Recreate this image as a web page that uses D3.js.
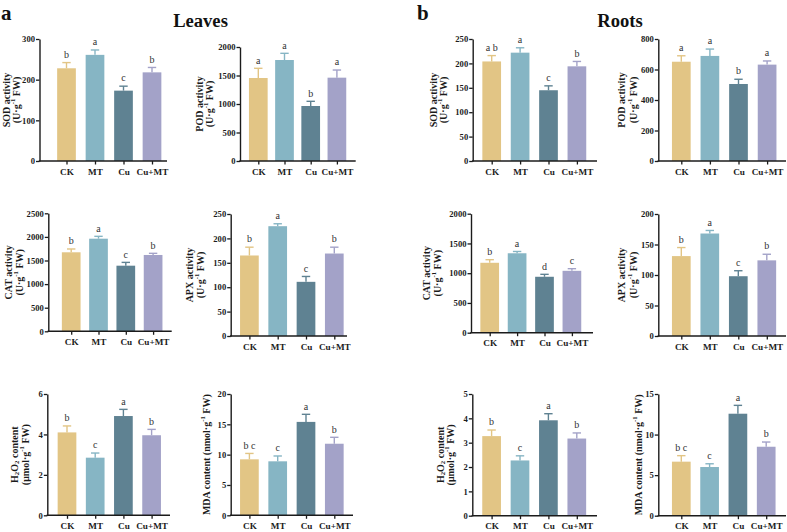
<!DOCTYPE html>
<html><head><meta charset="utf-8">
<script src="https://cdn.jsdelivr.net/npm/d3@7"></script>
<style>body{margin:0;background:#fff} svg{display:block} text{font-family:"Liberation Serif","Times New Roman",serif}</style>
</head><body><svg id="c" width="787" height="532"></svg>
<script>
const categories = ["CK", "MT", "Cu", "Cu+MT"];
const barColors = ["#E2C585", "#86B5C4", "#5F8292", "#A3A2C8"];

// Leaves
const leavesSOD = [228, 261, 173, 218];
const leavesSODErr = [14, 12, 11, 12];
const leavesSODLetters = ["b", "a", "c", "b"];
const leavesSODTicks = [0, 100, 200, 300];

const leavesPOD = [1456, 1772, 965, 1462];
const leavesPODErr = [170, 117, 82, 134];
const leavesPODLetters = ["a", "a", "b", "a"];
const leavesPODTicks = [0, 500, 1000, 1500, 2000];

const leavesCAT = [1674, 1962, 1390, 1617];
const leavesCATErr = [70, 50, 70, 35];
const leavesCATLetters = ["b", "a", "c", "b"];
const leavesCATTicks = [0, 500, 1000, 1500, 2000, 2500];

const leavesAPX = [165, 225, 111, 169];
const leavesAPXErr = [17, 5, 11, 13];
const leavesAPXLetters = ["b", "a", "c", "b"];
const leavesAPXTicks = [0, 50, 100, 150, 200, 250];

const leavesH2O2 = [4.10, 2.85, 4.91, 3.96];
const leavesH2O2Err = [0.32, 0.23, 0.33, 0.29];
const leavesH2O2Letters = ["b", "c", "a", "b"];
const leavesH2O2Ticks = [0, 2, 4, 6];

const leavesMDA = [9.23, 8.9, 15.4, 11.8];
const leavesMDAErr = [0.97, 0.88, 1.25, 1.06];
const leavesMDALetters = ["b c", "c", "a", "b"];
const leavesMDATicks = [0, 5, 10, 15, 20];

// Roots
const rootsSOD = [204, 222, 145, 194];
const rootsSODErr = [12, 10, 9, 10];
const rootsSODLetters = ["a b", "a", "c", "b"];
const rootsSODTicks = [0, 50, 100, 150, 200, 250];

const rootsPOD = [651, 689, 505, 632];
const rootsPODErr = [39, 45, 31, 24];
const rootsPODLetters = ["a", "a", "b", "a"];
const rootsPODTicks = [0, 200, 400, 600, 800];

const rootsCAT = [1175, 1335, 940, 1040];
const rootsCATErr = [52, 30, 41, 36];
const rootsCATLetters = ["b", "a", "d", "c"];
const rootsCATTicks = [0, 500, 1000, 1500, 2000];

const rootsAPX = [131, 168, 98, 124];
const rootsAPXErr = [14, 5, 9, 10];
const rootsAPXLetters = ["b", "a", "c", "b"];
const rootsAPXTicks = [0, 50, 100, 150, 200];

const rootsH2O2 = [3.27, 2.27, 3.92, 3.17];
const rootsH2O2Err = [0.25, 0.19, 0.27, 0.23];
const rootsH2O2Letters = ["b", "c", "a", "b"];
const rootsH2O2Ticks = [0, 1, 2, 3, 4, 5];

const rootsMDA = [6.66, 6.0, 12.57, 8.5];
const rootsMDAErr = [0.74, 0.4, 1.03, 0.58];
const rootsMDALetters = ["b c", "c", "a", "b"];
const rootsMDATicks = [0, 5, 10, 15];

const unitU = [{t: "(U·g"}, {t: "-1", s: "sup"}, {t: " FW)"}];
const unitH = [{t: "(μmol·g"}, {t: "-1", s: "sup"}, {t: " FW)"}];
const h2o2Label = [{t: "H"}, {t: "2", s: "sub"}, {t: "O"}, {t: "2", s: "sub"}, {t: " content"}];
const mdaLabel = [{t: "MDA content (nmol·g"}, {t: "-1", s: "sup"}, {t: " FW)"}];

const panels = [
  {v: leavesSOD, e: leavesSODErr, l: leavesSODLetters, ticks: leavesSODTicks, lab: [[{t:"SOD activity"}], unitU], lx: [5.5, 16], ax: 39.5, top: 39, bot: 161, off: 27, step: 28.5, end: 167},
  {v: leavesPOD, e: leavesPODErr, l: leavesPODLetters, ticks: leavesPODTicks, lab: [[{t:"POD activity"}], unitU], lx: [198.5, 209], ax: 240, top: 47, bot: 161, off: 18.3, step: 26.2, end: 355.7},
  {v: rootsSOD, e: rootsSODErr, l: rootsSODLetters, ticks: rootsSODTicks, lab: [[{t:"SOD activity"}], unitU], lx: [432.5, 442.5], ax: 472.7, top: 39, bot: 161, off: 19, step: 28.4, end: 597},
  {v: rootsPOD, e: rootsPODErr, l: rootsPODLetters, ticks: rootsPODTicks, lab: [[{t:"POD activity"}], unitU], lx: [621, 632.5], ax: 658.3, top: 39, bot: 161, off: 23, step: 28.6, end: 786},
  {v: leavesCAT, e: leavesCATErr, l: leavesCATLetters, ticks: leavesCATTicks, lab: [[{t:"CAT activity"}], unitU], lx: [8, 19], ax: 48.3, top: 213.3, bot: 331.3, off: 22.9, step: 27.3, end: 171.7},
  {v: leavesAPX, e: leavesAPXErr, l: leavesAPXLetters, ticks: leavesAPXTicks, lab: [[{t:"APX activity"}], unitU], lx: [188.5, 200], ax: 230.7, top: 214, bot: 336, off: 18.7, step: 28.3, end: 347},
  {v: rootsCAT, e: rootsCATErr, l: rootsCATLetters, ticks: rootsCATTicks, lab: [[{t:"CAT activity"}], unitU], lx: [426, 437], ax: 471, top: 213.7, bot: 332.7, off: 18.7, step: 27.4, end: 593},
  {v: rootsAPX, e: rootsAPXErr, l: rootsAPXLetters, ticks: rootsAPXTicks, lab: [[{t:"APX activity"}], unitU], lx: [621, 632.5], ax: 658.3, top: 214, bot: 336, off: 23, step: 28.5, end: 786},
  {v: leavesH2O2, e: leavesH2O2Err, l: leavesH2O2Letters, ticks: leavesH2O2Ticks, lab: [h2o2Label, unitH], lx: [13.5, 25], ax: 47.3, top: 394, bot: 515.3, off: 19.7, step: 28.2, end: 170},
  {v: leavesMDA, e: leavesMDAErr, l: leavesMDALetters, ticks: leavesMDATicks, lab: [mdaLabel], lx: [206], ax: 230.7, top: 394, bot: 515.3, off: 18.7, step: 28.3, end: 353},
  {v: rootsH2O2, e: rootsH2O2Err, l: rootsH2O2Letters, ticks: rootsH2O2Ticks, lab: [h2o2Label, unitH], lx: [439.5, 450], ax: 472.3, top: 394, bot: 515.7, off: 19.3, step: 28.4, end: 597},
  {v: rootsMDA, e: rootsMDAErr, l: rootsMDALetters, ticks: rootsMDATicks, lab: [mdaLabel], lx: [638], ax: 658.3, top: 394, bot: 515.7, off: 23, step: 28.3, end: 786}
];

const svg = d3.select("#c");
const INK = "#1b1b1b";
const BW = 18.7;
const SERIF = '"Liberation Serif","Times New Roman",serif';

function rich(text, parts, fs) {
  let cur = 0;
  parts.forEach(p => {
    const target = p.s === "sup" ? -0.38 * fs : p.s === "sub" ? 0.28 * fs : 0;
    const ts = text.append("tspan").text(p.t).attr("dy", target - cur);
    if (p.s) ts.attr("font-size", fs * 0.68);
    cur = target;
  });
}

panels.forEach(p => {
  const g = svg.append("g");
  const yMax = p.ticks[p.ticks.length - 1];
  const y = d3.scaleLinear().domain([0, yMax]).range([p.bot, p.top]);
  const x = d3.scalePoint().domain(categories).range([p.ax + p.off, p.ax + p.off + 3 * p.step]);

  // bars
  g.selectAll("rect.bar").data(p.v).join("rect").attr("class", "bar")
    .attr("x", (d, i) => x(categories[i]) - BW / 2)
    .attr("width", BW)
    .attr("y", d => y(d))
    .attr("height", d => p.bot - y(d))
    .attr("fill", (d, i) => barColors[i]);

  // error bars (upper) and significance letters
  p.v.forEach((d, i) => {
    const cx = x(categories[i]);
    const yt = y(d + p.e[i]);
    g.append("line").attr("x1", cx).attr("x2", cx).attr("y1", y(d)).attr("y2", yt)
      .attr("stroke", barColors[i]).attr("stroke-width", 1.4);
    g.append("line").attr("x1", cx - 4.2).attr("x2", cx + 4.2).attr("y1", yt).attr("y2", yt)
      .attr("stroke", barColors[i]).attr("stroke-width", 1.4);
    g.append("text").attr("x", cx).attr("y", yt - 4.8).attr("text-anchor", "middle")
      .attr("font-size", 10).attr("fill", "#333").text(p.l[i]);
  });

  // y axis
  const ya = g.append("g").attr("transform", `translate(${p.ax},0)`)
    .call(d3.axisLeft(y).tickValues(p.ticks).tickFormat(d => String(d)).tickSize(3.5).tickSizeOuter(0).tickPadding(1));
  ya.select(".domain").attr("stroke", INK).attr("stroke-width", 1.4);
  ya.selectAll(".tick line").attr("stroke", INK).attr("stroke-width", 1.3);
  ya.selectAll(".tick text").attr("font-size", 8.6).attr("font-weight", "bold").attr("fill", INK)
    .style("font-family", SERIF);

  // x axis
  const xa = g.append("g").attr("transform", `translate(0,${p.bot})`)
    .call(d3.axisBottom(x).tickSize(3.5).tickSizeOuter(0).tickPadding(3.5));
  xa.select(".domain").remove();
  xa.selectAll(".tick line").attr("stroke", INK).attr("stroke-width", 1.3);
  xa.selectAll(".tick text").attr("font-size", 9.2).attr("font-weight", "bold").attr("fill", INK)
    .style("font-family", SERIF);
  g.append("line").attr("x1", p.ax - 0.7).attr("x2", p.end).attr("y1", p.bot).attr("y2", p.bot)
    .attr("stroke", INK).attr("stroke-width", 1.4);

  // y label
  const cy = (p.top + p.bot) / 2;
  p.lab.forEach((parts, k) => {
    const t = g.append("text")
      .attr("transform", `translate(${p.lx[k]},${cy}) rotate(-90)`)
      .attr("text-anchor", "middle").attr("dominant-baseline", "central")
      .attr("font-size", 10).attr("font-weight", "bold").attr("fill", INK);
    rich(t, parts, 10);
  });
});

// panel letters and titles
svg.append("text").attr("x", 1).attr("y", 19.5).attr("font-size", 21).attr("font-weight", "bold").attr("fill", "#111").text("a");
svg.append("text").attr("x", 417).attr("y", 19.5).attr("font-size", 21).attr("font-weight", "bold").attr("fill", "#111").text("b");
svg.append("text").attr("x", 200.5).attr("y", 27).attr("text-anchor", "middle").attr("font-size", 18.6).attr("font-weight", "bold").attr("fill", "#111").text("Leaves");
svg.append("text").attr("x", 620).attr("y", 27).attr("text-anchor", "middle").attr("font-size", 18.6).attr("font-weight", "bold").attr("fill", "#111").text("Roots");
</script></body></html>
